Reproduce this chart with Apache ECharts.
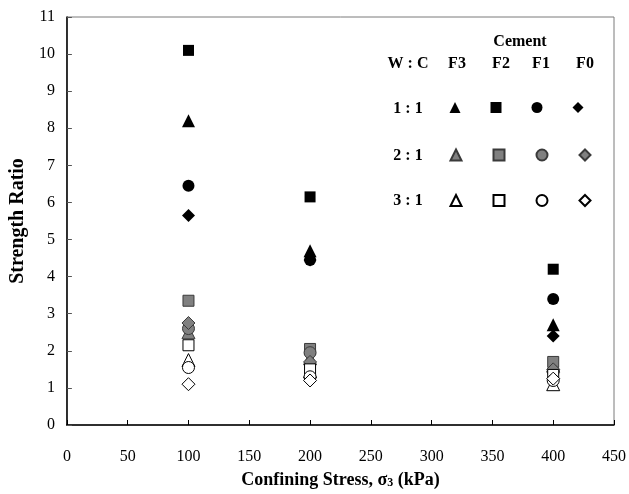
<!DOCTYPE html>
<html>
<head>
<meta charset="utf-8">
<script src="https://cdn.jsdelivr.net/npm/echarts@6/dist/echarts.min.js"></script>
<style>
  html, body { margin: 0; padding: 0; background: #fff; }
  #chart { width: 629px; height: 494px; }
</style>
</head>
<body>
<div id="chart"></div>
<script>
// 围压 (kPa)
var stress = [100, 200, 400];
var ratios = ['1 : 1', '2 : 1', '3 : 1'];
var cements = ['F3', 'F2', 'F1', 'F0'];
var xTicks = [0, 50, 100, 150, 200, 250, 300, 350, 400, 450];

// 强度比，每组对应 100 / 200 / 400 kPa
var r1F3 = [8.2, 4.7, 2.7];
var r1F2 = [10.1, 6.15, 4.2];
var r1F1 = [6.45, 4.45, 3.4];
var r1F0 = [5.65, 4.45, 2.4];
var r2F3 = [2.5, 1.8, 1.6];
var r2F2 = [3.35, 2.05, 1.7];
var r2F1 = [2.6, 1.95, 1.45];
var r2F0 = [2.75, 1.7, 1.5];
var r3F3 = [1.75, 1.45, 1.1];
var r3F2 = [2.15, 1.5, 1.35];
var r3F1 = [1.55, 1.3, 1.2];
var r3F0 = [1.1, 1.2, 1.25];

var values = [
  [r1F3, r1F2, r1F1, r1F0],
  [r2F3, r2F2, r2F1, r2F0],
  [r3F3, r3F2, r3F1, r3F0]
];

var symbols = ['triangle', 'rect', 'circle', 'diamond'];
var sizes = [13, 11, 12, 13];
var fills = ['#000000', '#808080', '#ffffff'];
var borders = ['#000000', '#3a3a3a', '#000000'];

var font = '"Liberation Serif", "Times New Roman", serif';
var myChart = echarts.init(document.getElementById('chart'));

var series = [];
var legends = [];
var rowTop = [102, 148.5, 194];
ratios.forEach(function (r, i) {
  var names = [];
  cements.forEach(function (c, j) {
    var name = r + ' ' + c;
    names.push(name);
    series.push({
      name: name,
      type: 'scatter',
      symbol: symbols[j],
      symbolSize: sizes[j],
      itemStyle: {
        color: fills[i],
        opacity: 1,
        borderColor: borders[i],
        borderWidth: i === 0 ? 0 : 1
      },
      data: stress.map(function (s, k) { return [s, values[i][j][k]]; })
    });
  });
  legends.push({
    data: names,
    left: 449.5,
    top: rowTop[i],
    padding: 0,
    orient: 'horizontal',
    itemWidth: 11,
    itemHeight: 11,
    itemGap: 30,
    selectedMode: false,
    formatter: function () { return ''; },
    textStyle: { fontSize: 6 }
  });
});

var headText = { font: 'bold 16px ' + font, fill: '#000', textAlign: 'center', textVerticalAlign: 'middle' };

var option = {
  animation: false,
  backgroundColor: '#fff',
  grid: {
    left: 57, right: 13, top: 17, bottom: 67,
    show: true, borderColor: '#7a7a7a', borderWidth: 1
  },
  legend: legends,
  graphic: [
    { type: 'text', x: 520, y: 42, style: Object.assign({ text: 'Cement' }, headText) },
    { type: 'text', x: 408, y: 64, style: Object.assign({ text: 'W : C' }, headText) },
    { type: 'text', x: 457, y: 64, style: Object.assign({ text: cements[0] }, headText) },
    { type: 'text', x: 501, y: 64, style: Object.assign({ text: cements[1] }, headText) },
    { type: 'text', x: 541, y: 64, style: Object.assign({ text: cements[2] }, headText) },
    { type: 'text', x: 585, y: 64, style: Object.assign({ text: cements[3] }, headText) },
    { type: 'text', x: 408, y: 109, style: Object.assign({ text: ratios[0] }, headText) },
    { type: 'text', x: 408, y: 156, style: Object.assign({ text: ratios[1] }, headText) },
    { type: 'text', x: 408, y: 201, style: Object.assign({ text: ratios[2] }, headText) }
  ],
  xAxis: {
    type: 'value',
    min: 0, max: 450, interval: 50,
    name: 'Confining Stress, σ{sub|3} (kPa)',
    nameLocation: 'middle',
    nameGap: 46,
    nameTextStyle: {
      fontFamily: font, fontSize: 18, fontWeight: 'bold', color: '#000',
      rich: { sub: { fontFamily: font, fontSize: 12, fontWeight: 'bold', verticalAlign: 'bottom', padding: [6, 0, 0, 0] } }
    },
    axisLine: { onZero: false, lineStyle: { color: '#000', width: 1.5 } },
    axisTick: { inside: true, length: 5, lineStyle: { color: '#000' } },
    axisLabel: {
      margin: 24, fontFamily: font, fontSize: 16, color: '#000',
      formatter: function (v) { return xTicks.indexOf(v) >= 0 ? String(v) : ''; }
    },
    splitLine: { show: false }
  },
  yAxis: {
    type: 'value',
    min: 0, max: 11, interval: 1,
    name: 'Strength Ratio',
    nameLocation: 'middle',
    nameGap: 28,
    nameTextStyle: { fontFamily: font, fontSize: 20, fontWeight: 'bold', color: '#000' },
    axisLine: { onZero: false, lineStyle: { color: '#000', width: 1.5 } },
    axisTick: { inside: true, length: 5, lineStyle: { color: '#555' } },
    axisLabel: { margin: 12, fontFamily: font, fontSize: 16, color: '#000' },
    splitLine: { show: false }
  },
  series: series
};

myChart.setOption(option);
</script>
</body>
</html>
